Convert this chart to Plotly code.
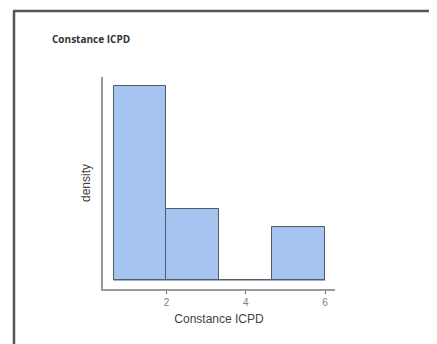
import plotly.graph_objects as go

# Data
bin_edges = [0.6667, 2.0, 3.3333, 4.6667, 6.0]
counts = [11, 4, 0, 3]
x_ticks = [2, 4, 6]
title_text = "Constance ICPD"
x_label = "Constance ICPD"
y_label = "density"

total = sum(counts)
widths = [bin_edges[i + 1] - bin_edges[i] for i in range(len(counts))]
centers = [(bin_edges[i] + bin_edges[i + 1]) / 2 for i in range(len(counts))]
density = [c / (total * w) for c, w in zip(counts, widths)]

fig = go.Figure()
fig.add_trace(go.Scatter(
    x=[bin_edges[0], bin_edges[-1]], y=[0, 0], mode="lines",
    line=dict(color="#5a6472", width=1), hoverinfo="skip", showlegend=False,
))
fig.add_trace(go.Bar(
    x=centers, y=density, width=widths,
    marker=dict(color="#a6c4f0", line=dict(color="#4f5a68", width=1)),
    showlegend=False,
))

OFF = 8  # page body margin
W, H = 437 - OFF, 344 - OFF
L, R, T, B = 103 - OFF, 335 - OFF, 77 - OFF, 289 - OFF
pw, ph = R - L, B - T

def px(x):
    return (x - OFF - L) / pw

def py(y):
    return (B - (y - OFF)) / ph

fig.update_layout(
    width=W, height=H,
    margin=dict(l=L, r=W - R, t=T, b=H - B, pad=0),
    paper_bgcolor="white", plot_bgcolor="white",
    bargap=0,
    font=dict(family="Liberation Sans, Arial, sans-serif", color="#444"),
    xaxis=dict(
        range=[0.399, 6.25], tickvals=x_ticks, ticktext=[str(t) for t in x_ticks],
        showgrid=False, zeroline=False, showline=True, linecolor="#9a9a9a", linewidth=1.5,
        ticks="outside", ticklen=3, tickcolor="#666", tickwidth=1,
        tickfont=dict(size=10, color="#808080"),
        title=dict(text=x_label, font=dict(size=12, color="#444"), standoff=8),
    ),
    yaxis=dict(
        range=[-0.0212, 0.4795], showticklabels=False, ticks="",
        showgrid=False, zeroline=False, showline=True, linecolor="#9a9a9a", linewidth=1.5,
        title=dict(text=y_label, font=dict(size=12, color="#444"), standoff=8),
    ),
    shapes=[
        dict(type="line", xref="paper", yref="paper", x0=px(14), x1=px(14), y0=py(11), y1=py(350),
             line=dict(color="#555", width=2.5)),
        dict(type="line", xref="paper", yref="paper", x0=px(13), x1=px(433), y0=py(11), y1=py(11),
             line=dict(color="#555", width=2.5)),
    ],
    annotations=[
        dict(text="<b>" + title_text + "</b>", xref="paper", yref="paper", x=px(50), y=py(39),
             xanchor="left", yanchor="middle", showarrow=False,
             font=dict(family="Open Sans, sans-serif", size=10, color="#333")),
    ],
)

fig.write_html("out.html")
